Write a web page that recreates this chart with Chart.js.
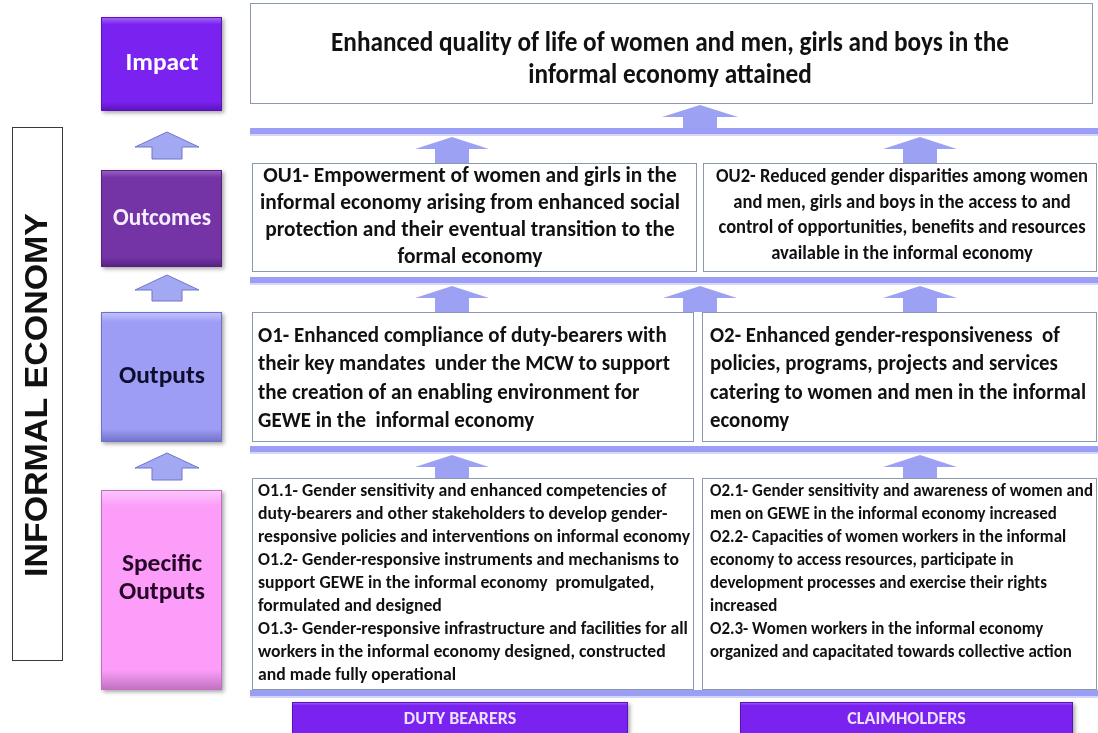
<!DOCTYPE html>
<html>
<head>
<meta charset="utf-8">
<title>Informal economy results framework</title>
<script src="https://cdn.jsdelivr.net/npm/chart.js@4.4.0/dist/chart.umd.min.js"></script>
<style>
  html, body { margin: 0; padding: 0; background: #fff; }
  #wrap { position: relative; width: 1098px; height: 733px; }
</style>
</head>
<body>
<div id="wrap"><canvas id="framework"></canvas></div>
<script>
// text content of the framework
const sideLabel = 'INFORMAL ECONOMY';
const levelLabels = [['Impact'], ['Outcomes'], ['Outputs'], ['Specific', 'Outputs']];
const impactText = [
  'Enhanced quality of life of women and men, girls and boys in the',
  'informal economy attained'
];
const outcomeTexts = [
  ['OU1- Empowerment of women and girls in the',
   'informal economy arising from enhanced social',
   'protection and their eventual transition to the',
   'formal economy'],
  ['OU2- Reduced gender disparities among women',
   'and men, girls and boys in the access to and',
   'control of opportunities, benefits and resources',
   'available in the informal economy']
];
const outputTexts = [
  ['O1- Enhanced compliance of duty-bearers with',
   'their key mandates  under the MCW to support',
   'the creation of an enabling environment for',
   'GEWE in the  informal economy'],
  ['O2- Enhanced gender-responsiveness  of',
   'policies, programs, projects and services',
   'catering to women and men in the informal',
   'economy']
];
const specificTexts = [
  ['O1.1- Gender sensitivity and enhanced competencies of',
   'duty-bearers and other stakeholders to develop gender-',
   'responsive policies and interventions on informal economy',
   'O1.2- Gender-responsive instruments and mechanisms to',
   'support GEWE in the informal economy  promulgated,',
   'formulated and designed',
   'O1.3- Gender-responsive infrastructure and facilities for all',
   'workers in the informal economy designed, constructed',
   'and made fully operational'],
  ['O2.1- Gender sensitivity and awareness of women and',
   'men on GEWE in the informal economy increased',
   'O2.2- Capacities of women workers in the informal',
   'economy to access resources, participate in',
   'development processes and exercise their rights',
   'increased',
   'O2.3- Women workers in the informal economy',
   'organized and capacitated towards collective action']
];
const groupLabels = ['DUTY BEARERS', 'CLAIMHOLDERS'];

const FONT = 'Carlito, Lato, "Open Sans", sans-serif';

const frameworkPlugin = {
  id: 'framework',
  afterDraw(chart) {
    const ctx = chart.ctx;
    const sx = chart.scales.x, sy = chart.scales.y;
    const X = v => sx.getPixelForValue(v);
    const Y = v => sy.getPixelForValue(v);

    function box(x0, y0, x1, y1, fill, stroke) {
      ctx.save();
      ctx.fillStyle = fill;
      ctx.fillRect(X(x0), Y(y0), X(x1) - X(x0), Y(y1) - Y(y0));
      if (stroke) {
        ctx.strokeStyle = stroke;
        ctx.lineWidth = 1;
        ctx.strokeRect(X(x0) + 0.5, Y(y0) + 0.5, X(x1) - X(x0) - 1, Y(y1) - Y(y0) - 1);
      }
      ctx.restore();
    }

    function bevelBox(x0, y0, x1, y1, base, light, dark) {
      ctx.save();
      ctx.shadowColor = 'rgba(0,0,0,0.35)';
      ctx.shadowBlur = 4;
      ctx.shadowOffsetX = 2;
      ctx.shadowOffsetY = 2;
      const g = ctx.createLinearGradient(0, Y(y0), 0, Y(y1));
      g.addColorStop(0, light);
      g.addColorStop(0.08, base);
      g.addColorStop(0.9, base);
      g.addColorStop(1, dark);
      ctx.fillStyle = g;
      ctx.fillRect(X(x0), Y(y0), X(x1) - X(x0), Y(y1) - Y(y0));
      ctx.restore();
      ctx.save();
      ctx.strokeStyle = dark;
      ctx.lineWidth = 1;
      ctx.strokeRect(X(x0) + 0.5, Y(y0) + 0.5, X(x1) - X(x0) - 1, Y(y1) - Y(y0) - 1);
      ctx.restore();
    }

    function arrowUp(cx, yTop, yBot, headW, shaftW, headH, fill, stroke) {
      ctx.save();
      ctx.beginPath();
      ctx.moveTo(X(cx), Y(yTop));
      ctx.lineTo(X(cx + headW / 2), Y(yTop + headH));
      ctx.lineTo(X(cx + shaftW / 2), Y(yTop + headH));
      ctx.lineTo(X(cx + shaftW / 2), Y(yBot));
      ctx.lineTo(X(cx - shaftW / 2), Y(yBot));
      ctx.lineTo(X(cx - shaftW / 2), Y(yTop + headH));
      ctx.lineTo(X(cx - headW / 2), Y(yTop + headH));
      ctx.closePath();
      ctx.fillStyle = fill;
      ctx.fill();
      if (stroke) {
        ctx.strokeStyle = stroke;
        ctx.lineWidth = 1;
        ctx.stroke();
      }
      ctx.restore();
    }

    function hbar(x0, x1, y0, y1) {
      box(x0, y0, x1, y1, '#9a9ef4');
      box(x0, y1, x1, y1 + 2, '#d4d6fa');
    }

    // lines: array of strings; opts: x, y (first line centre), step, size, weight, family, color, align, width (target width of longest line)
    function textBlock(lines, o) {
      ctx.save();
      ctx.font = `${o.weight || 'bold'} ${o.size}px ${o.family || FONT}`;
      ctx.fillStyle = o.color || '#000';
      ctx.textBaseline = 'middle';
      ctx.textAlign = o.align || 'left';
      let widest = 0;
      lines.forEach(l => { widest = Math.max(widest, ctx.measureText(l).width); });
      const k = o.width ? o.width / widest : 1;
      lines.forEach((l, i) => {
        ctx.save();
        ctx.translate(X(o.x), Y(o.y + i * (o.step || 0)));
        ctx.scale(k, 1);
        ctx.fillText(l, 0, 0);
        ctx.restore();
      });
      ctx.restore();
    }

    // ---- left side label ----
    box(12, 127, 63, 661, '#ffffff', '#3a3a3a');
    ctx.save();
    ctx.translate(X(38), Y(395));
    ctx.rotate(-Math.PI / 2);
    ctx.font = 'bold 32px "Liberation Sans", Arial, sans-serif';
    ctx.fillStyle = '#111';
    ctx.textAlign = 'center';
    ctx.textBaseline = 'middle';
    const sw = ctx.measureText(sideLabel).width;
    ctx.scale(364 / sw, 1);
    ctx.fillText(sideLabel, 0, 0);
    ctx.restore();

    // ---- level boxes ----
    const lv = [
      { y0: 17, y1: 111, base: '#7a22f0', light: '#a66cf8', dark: '#5a12b8', color: '#ffffff', ty: 64, w: [73] },
      { y0: 170, y1: 267, base: '#7434a6', light: '#9a66c4', dark: '#55207e', color: '#f6eeff', ty: 219, w: [98] },
      { y0: 312, y1: 442, base: '#9d9df6', light: '#c4c4fb', dark: '#7070c8', color: '#0e0e2c', ty: 377, w: [86] },
      { y0: 490, y1: 690, base: '#fb9df9', light: '#fdc8fc', dark: '#c070c0', color: '#260626', ty: 565, w: [84, 86] }
    ];
    lv.forEach((l, i) => {
      bevelBox(101, l.y0, 222, l.y1, l.base, l.light, l.dark);
      const lines = levelLabels[i];
      textBlock(lines, { x: 162, y: l.ty, step: 28, size: 24, color: l.color, align: 'center', width: Math.max(...l.w) });
    });
    // left arrows
    [[132, 159], [275, 301], [453, 480]].forEach(a => {
      arrowUp(167, a[0], a[1], 64, 30, 15, '#a3a8f2', '#6f76c8');
    });

    // ---- right side ----
    const rArrow = '#9da1f4';
    box(250, 3, 1093, 104, '#ffffff', '#8a98b0');
    textBlock(impactText, { x: 670, y: 44, step: 32, size: 28, align: 'center', width: 678, color: '#111' });
    arrowUp(700, 105, 128, 76, 34, 12, rArrow);
    hbar(250, 1098, 128, 134);

    arrowUp(452, 137, 163, 74, 34, 12, rArrow);
    arrowUp(920, 137, 163, 74, 34, 12, rArrow);
    box(252, 163, 697, 272, '#ffffff', '#8a98b0');
    box(703, 163, 1097, 272, '#ffffff', '#8a98b0');
    textBlock(outcomeTexts[0], { x: 470, y: 176, step: 27, size: 22, align: 'center', width: 420, color: '#111' });
    textBlock(outcomeTexts[1], { x: 902, y: 177, step: 25.5, size: 20, align: 'center', width: 372, color: '#111' });
    hbar(250, 1098, 277, 283);

    arrowUp(452, 286, 312, 74, 34, 12, rArrow);
    arrowUp(700, 286, 312, 74, 34, 12, rArrow);
    arrowUp(920, 286, 312, 74, 34, 12, rArrow);
    box(252, 312, 694, 442, '#ffffff', '#8a98b0');
    box(702, 312, 1097, 442, '#ffffff', '#8a98b0');
    textBlock(outputTexts[0], { x: 258, y: 336, step: 28.5, size: 22, width: 412, color: '#111' });
    textBlock(outputTexts[1], { x: 710, y: 336, step: 28.5, size: 22, width: 376, color: '#111' });
    hbar(250, 1098, 446, 452);

    arrowUp(452, 455, 478, 74, 34, 12, rArrow);
    arrowUp(920, 455, 478, 74, 34, 12, rArrow);
    box(252, 478, 694, 690, '#ffffff', '#8a98b0');
    box(702, 478, 1097, 690, '#ffffff', '#8a98b0');
    textBlock(specificTexts[0], { x: 258, y: 492, step: 23, size: 17.5, width: 432, color: '#111' });
    textBlock(specificTexts[1], { x: 710, y: 492, step: 23, size: 17.5, width: 383, color: '#111' });
    hbar(250, 1098, 690, 696);

    // ---- bottom group labels ----
    [[292, 628], [740, 1073]].forEach((g, i) => {
      bevelBox(g[0], 702, g[1], 745, '#7a22f0', '#a66cf8', '#5a12b8');
      textBlock([groupLabels[i]], { x: (g[0] + g[1]) / 2, y: 719, size: 18, align: 'center', color: '#ece2ff' });
    });
  }
};

new Chart(document.getElementById('framework'), {
  type: 'scatter',
  data: { datasets: [] },
  options: {
    responsive: true,
    maintainAspectRatio: false,
    animation: false,
    layout: { padding: 0 },
    plugins: { legend: { display: false }, tooltip: { enabled: false } },
    scales: {
      x: { type: 'linear', min: 0, max: 1098, display: false },
      y: { type: 'linear', min: 0, max: 733, reverse: true, display: false }
    }
  },
  plugins: [frameworkPlugin]
});
</script>
</body>
</html>
